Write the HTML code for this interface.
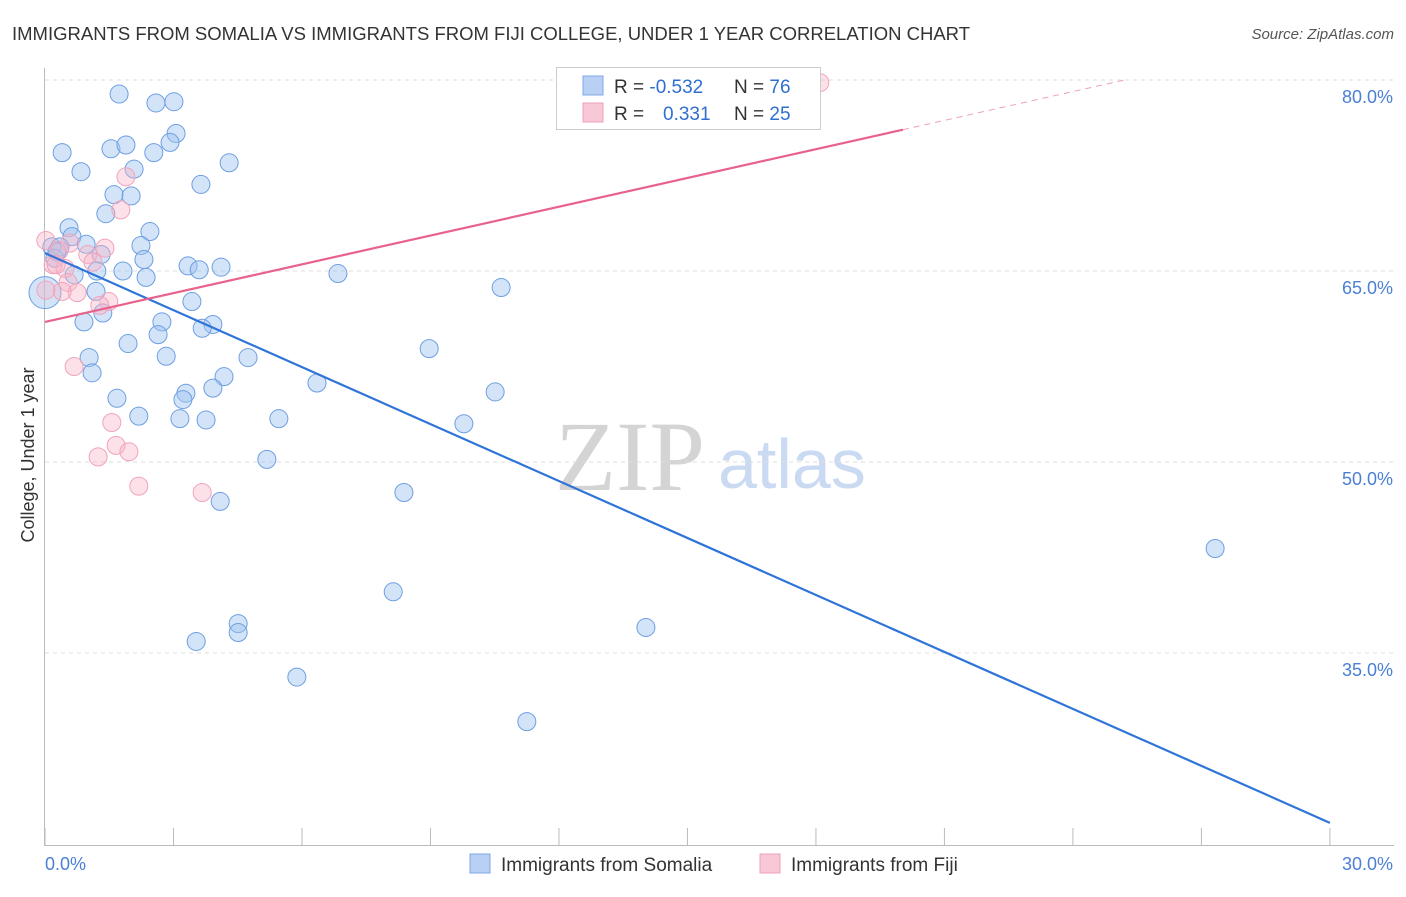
<!DOCTYPE html>
<html><head><meta charset="utf-8"><style>
body{margin:0;background:#fff;font-family:"Liberation Sans",sans-serif}
svg text{font-family:"Liberation Sans",sans-serif}
</style></head><body>
<svg id="c" width="1406" height="892">
<text x="12" y="40" font-size="18.5" fill="#333">IMMIGRANTS FROM SOMALIA VS IMMIGRANTS FROM FIJI COLLEGE, UNDER 1 YEAR CORRELATION CHART</text>
<text x="1394" y="39" font-size="15" fill="#555" font-style="italic" text-anchor="end">Source: ZipAtlas.com</text>
<text x="555" y="490" font-size="100" fill="#d4d4d4" style="font-family:'Liberation Serif',serif">ZIP</text>
<text x="718" y="488" font-size="70" fill="#c9daf2">atlas</text>
<text transform="translate(34,455) rotate(-90)" font-size="18" fill="#333" text-anchor="middle">College, Under 1 year</text>
<g id="grid"></g><g id="ticks"></g>
<line x1="44.5" y1="68" x2="44.5" y2="845" stroke="#bbb"/>
<line x1="44" y1="845.5" x2="1394" y2="845.5" stroke="#bbb"/>
<g id="pts"></g><g id="lines"></g>
<text x="45" y="870" font-size="18" fill="#4a7fd4">0.0%</text>
<text x="1393" y="870" font-size="18" fill="#4a7fd4" text-anchor="end">30.0%</text>
<g>
<rect x="556.5" y="67.5" width="264" height="62" fill="#fff" stroke="#ccc"/>
<rect x="583" y="76" width="20" height="19" fill="#b8d0f4" stroke="#7ea8e6"/>
<rect x="583" y="103" width="20" height="19" fill="#f9c8d6" stroke="#eea0b8"/>
<text x="614" y="93" font-size="19" fill="#333">R = <tspan fill="#2f6fd0">-0.532</tspan></text>
<text x="734" y="93" font-size="19" fill="#333">N = <tspan fill="#2f6fd0">76</tspan></text>
<text x="614" y="120" font-size="19" fill="#333">R = <tspan fill="#2f6fd0" x="663">0.331</tspan></text>
<text x="734" y="120" font-size="19" fill="#333">N = <tspan fill="#2f6fd0">25</tspan></text>
</g>
<g>
<rect x="470" y="854" width="20" height="19" fill="#b8d0f4" stroke="#7ea8e6"/>
<text x="501" y="871" font-size="19" fill="#333">Immigrants from Somalia</text>
<rect x="760" y="854" width="20" height="19" fill="#f9c8d6" stroke="#eea0b8"/>
<text x="791" y="871" font-size="19" fill="#333">Immigrants from Fiji</text>
</g>
</svg>
<script>
const yTicks=[80,65,50,35];
const yTickLabels=["80.0%","65.0%","50.0%","35.0%"];
const xTicks=[0,3,6,9,12,15,18,21,24,27,30];
const somaliaX=[1.73,2.59,3.01,0.40,1.54,1.89,3.06,2.92,2.54,4.30,0.84,2.08,3.64,1.61,2.01,1.42,0.56,2.45,0.63,0.16,0.35,0.96,2.24,1.31,0.23,2.31,1.21,1.82,0.68,2.36,3.34,3.60,4.11,6.84,1.19,10.65,3.43,1.35,0.91,2.73,3.92,3.67,2.64,1.94,8.97,1.03,2.83,4.74,1.10,4.18,6.35,3.92,3.29,10.51,3.22,1.68,2.19,3.15,3.76,5.46,9.78,5.18,8.38,4.09,27.32,8.13,4.51,4.51,3.53,14.03,5.88,11.25,0.0,0.28];
const somaliaY=[78.9,78.2,78.3,74.3,74.6,74.9,75.8,75.1,74.3,73.5,72.8,73.0,71.8,71.0,70.9,69.5,68.4,68.1,67.7,66.9,66.9,67.1,67.0,66.3,66.0,65.9,65.0,65.0,64.7,64.5,65.4,65.1,65.3,64.8,63.4,63.7,62.6,61.7,61.0,61.0,60.8,60.5,60.0,59.3,58.9,58.2,58.3,58.2,57.0,56.7,56.2,55.8,55.4,55.5,54.9,55.0,53.6,53.4,53.3,53.4,53.0,50.2,47.6,46.9,43.2,39.8,37.3,36.6,35.9,37.0,33.1,29.6,63.3,66.5];
const somaliaSize=somaliaX.map((v,i)=>i===72?2:1);
const fijiX=[18.09,1.89,1.77,0.02,0.58,1.40,0.33,1.00,0.19,1.12,0.47,0.54,0.75,0.40,1.49,1.28,0.68,1.56,1.66,1.24,1.96,2.19,3.67,0.02,0.26];
const fijiY=[79.8,72.4,69.8,67.4,67.2,66.8,66.6,66.3,65.5,65.7,65.2,64.1,63.3,63.4,62.6,62.3,57.5,53.1,51.3,50.4,50.8,48.1,47.6,63.5,65.5];
const somaliaTrend=[[0,66.4],[30,21.65]];
const fijiTrend=[[0,61.0],[20.03,76.1]];
const fijiTrendExt=[[20.03,76.1],[25.2,80]];
const NS="http://www.w3.org/2000/svg";
const sx=v=>45+v*42.83, sy=v=>271-(v-65)*12.73;
function mk(tag,parent,attrs){const e=document.createElementNS(NS,tag);for(const k in attrs)e.setAttribute(k,attrs[k]);document.getElementById(parent).appendChild(e);return e;}
yTicks.forEach((t,i)=>{
 const l=mk('line','grid',{x1:45,x2:1394,y1:sy(t),y2:sy(t),stroke:'#ddd','stroke-dasharray':'4,4'});
 
 
 const tx=mk('text','grid',{x:1393,y:sy(t)+23,'font-size':18,fill:'#4a7fd4','text-anchor':'end'});
 tx.textContent=yTickLabels[i];
 
 
});
xTicks.forEach(t=>{
 const l=mk('line','ticks',{x1:sx(t),x2:sx(t),y1:828,y2:845,stroke:'#bbb'});
 
 
});
somaliaX.forEach((x,i)=>{
 const c=mk('circle','pts',{cx:sx(x),cy:sy(somaliaY[i]),r:somaliaSize[i]>1?16:9,fill:'rgba(160,196,240,0.45)',stroke:'#6d9fe2','stroke-width':1});
 
 
});
fijiX.forEach((x,i)=>{
 const c=mk('circle','pts',{cx:sx(x),cy:sy(fijiY[i]),r:9,fill:'rgba(248,180,200,0.4)',stroke:'#f0a4bc','stroke-width':1});
 
 
});
const b=mk('line','lines',{x1:sx(somaliaTrend[0][0]),y1:sy(somaliaTrend[0][1]),x2:sx(somaliaTrend[1][0]),y2:sy(somaliaTrend[1][1]),stroke:'#2f74d8','stroke-width':2.2});


const p=mk('line','lines',{x1:sx(fijiTrend[0][0]),y1:sy(fijiTrend[0][1]),x2:sx(fijiTrend[1][0]),y2:sy(fijiTrend[1][1]),stroke:'#e8628c','stroke-width':2.2});


const pd=mk('line','lines',{x1:sx(fijiTrendExt[0][0]),y1:sy(fijiTrendExt[0][1]),x2:sx(fijiTrendExt[1][0]),y2:sy(fijiTrendExt[1][1]),stroke:'#eea0b8','stroke-width':1,'stroke-dasharray':'6,5'});


</script>
</body></html>
